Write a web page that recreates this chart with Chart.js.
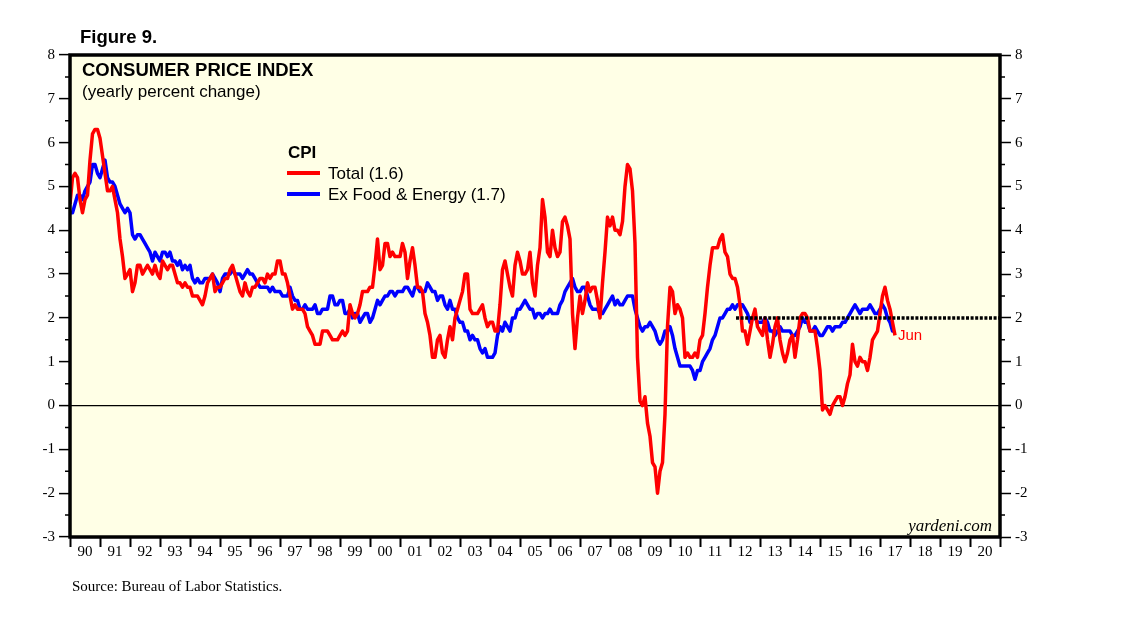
<!DOCTYPE html>
<html>
<head>
<meta charset="utf-8">
<script src="https://cdn.jsdelivr.net/npm/chart.js@4"></script>
<style>
  html, body { margin: 0; padding: 0; background: #ffffff; }
  #wrap { position: relative; width: 1138px; height: 641px; overflow: hidden; }
  #c { position: absolute; left: 0; top: 0; }
  .t { position: absolute; white-space: nowrap; line-height: 1; color: #000; }
  .sans { font-family: "Liberation Sans", Arial, sans-serif; }
  .serif { font-family: "Liberation Serif", "Times New Roman", serif; }
  .sw { position: absolute; height: 4px; width: 33px; }
</style>
</head>
<body>
<div id="wrap">
  <canvas id="c" width="1138" height="641"></canvas>
  <div class="t sans" style="left:80px; top:28px; font-size:18.5px; font-weight:bold;">Figure 9.</div>
  <div class="t sans" style="left:82px; top:61px; font-size:18.5px; font-weight:bold;">CONSUMER PRICE INDEX</div>
  <div class="t sans" style="left:82px; top:82.5px; font-size:17px;">(yearly percent change)</div>
  <div class="t sans" style="left:288px; top:144px; font-size:17px; font-weight:bold;">CPI</div>
  <div class="sw" style="left:287px; top:171px; background:#ff0000;"></div>
  <div class="t sans" style="left:328px; top:164.5px; font-size:17px;">Total (1.6)</div>
  <div class="sw" style="left:287px; top:192px; background:#0000ff;"></div>
  <div class="t sans" style="left:328px; top:185.5px; font-size:17px;">Ex Food &amp; Energy (1.7)</div>
  <div class="t sans" style="left:898px; top:326.5px; font-size:15px; color:#ff0000;">Jun</div>
  <div class="t serif" style="right:146px; top:517px; font-size:17px; font-style:italic;">yardeni.com</div>
  <div class="t serif" style="left:72px; top:578.5px; font-size:15px;">Source: Bureau of Labor Statistics.</div>
</div>
<script>
// Monthly series, first value = Dec 1989, last value = Jun 2017 (yearly % change)
const startYear = 1989;
const startMonth = 12;

const totalCPI = [
  4.6,
  5.2, 5.3, 5.2, 4.7, 4.4, 4.7, 4.8, 5.6, 6.2, 6.3, 6.3, 6.1,   // 1990
  5.7, 5.3, 4.9, 4.9, 5.0, 4.7, 4.4, 3.8, 3.4, 2.9, 3.0, 3.1,   // 1991
  2.6, 2.8, 3.2, 3.2, 3.0, 3.1, 3.2, 3.1, 3.0, 3.2, 3.0, 2.9,   // 1992
  3.3, 3.2, 3.1, 3.2, 3.2, 3.0, 2.8, 2.8, 2.7, 2.8, 2.7, 2.7,   // 1993
  2.5, 2.5, 2.5, 2.4, 2.3, 2.5, 2.8, 2.9, 3.0, 2.6, 2.7, 2.7,   // 1994
  2.8, 2.9, 2.9, 3.1, 3.2, 3.0, 2.8, 2.6, 2.5, 2.8, 2.6, 2.5,   // 1995
  2.7, 2.7, 2.8, 2.9, 2.9, 2.8, 3.0, 2.9, 3.0, 3.0, 3.3, 3.3,   // 1996
  3.0, 3.0, 2.8, 2.5, 2.2, 2.3, 2.2, 2.2, 2.2, 2.1, 1.8, 1.7,   // 1997
  1.6, 1.4, 1.4, 1.4, 1.7, 1.7, 1.7, 1.6, 1.5, 1.5, 1.5, 1.6,   // 1998
  1.7, 1.6, 1.7, 2.3, 2.1, 2.0, 2.1, 2.3, 2.6, 2.6, 2.6, 2.7,   // 1999
  2.7, 3.2, 3.8, 3.1, 3.2, 3.7, 3.7, 3.4, 3.5, 3.4, 3.4, 3.4,   // 2000
  3.7, 3.5, 2.9, 3.3, 3.6, 3.2, 2.7, 2.7, 2.6, 2.1, 1.9, 1.6,   // 2001
  1.1, 1.1, 1.5, 1.6, 1.2, 1.1, 1.5, 1.8, 1.5, 2.0, 2.2, 2.4,   // 2002
  2.6, 3.0, 3.0, 2.2, 2.1, 2.1, 2.1, 2.2, 2.3, 2.0, 1.8, 1.9,   // 2003
  1.9, 1.7, 1.7, 2.3, 3.1, 3.3, 3.0, 2.7, 2.5, 3.2, 3.5, 3.3,   // 2004
  3.0, 3.0, 3.1, 3.5, 2.8, 2.5, 3.2, 3.6, 4.7, 4.3, 3.5, 3.4,   // 2005
  4.0, 3.6, 3.4, 3.5, 4.2, 4.3, 4.1, 3.8, 2.1, 1.3, 2.0, 2.5,   // 2006
  2.1, 2.4, 2.8, 2.6, 2.7, 2.7, 2.4, 2.0, 2.8, 3.5, 4.3, 4.1,   // 2007
  4.3, 4.0, 4.0, 3.9, 4.2, 5.0, 5.5, 5.4, 4.9, 3.7, 1.1, 0.1,   // 2008
  0.0, 0.2, -0.4, -0.7, -1.3, -1.4, -2.0, -1.5, -1.3, -0.2, 1.8, 2.7, // 2009
  2.6, 2.1, 2.3, 2.2, 2.0, 1.1, 1.2, 1.1, 1.1, 1.2, 1.1, 1.5,   // 2010
  1.6, 2.1, 2.7, 3.2, 3.6, 3.6, 3.6, 3.8, 3.9, 3.5, 3.4, 3.0,   // 2011
  2.9, 2.9, 2.7, 2.3, 1.7, 1.7, 1.4, 1.7, 2.0, 2.2, 1.8, 1.7,   // 2012
  1.6, 2.0, 1.5, 1.1, 1.4, 1.8, 2.0, 1.5, 1.2, 1.0, 1.2, 1.5,   // 2013
  1.6, 1.1, 1.5, 2.0, 2.1, 2.1, 2.0, 1.7, 1.7, 1.7, 1.3, 0.8,   // 2014
  -0.1, 0.0, -0.1, -0.2, 0.0, 0.1, 0.2, 0.2, 0.0, 0.2, 0.5, 0.7, // 2015
  1.4, 1.0, 0.9, 1.1, 1.0, 1.0, 0.8, 1.1, 1.5, 1.6, 1.7, 2.1,   // 2016
  2.5, 2.7, 2.4, 2.2, 1.9, 1.6                                  // 2017
];

const coreCPI = [
  4.4,
  4.4, 4.6, 4.8, 4.8, 4.7, 4.9, 5.0, 5.1, 5.5, 5.5, 5.3, 5.2,   // 1990
  5.4, 5.6, 5.2, 5.1, 5.1, 5.0, 4.8, 4.6, 4.5, 4.4, 4.5, 4.4,   // 1991
  3.9, 3.8, 3.9, 3.9, 3.8, 3.7, 3.6, 3.5, 3.3, 3.5, 3.4, 3.3,   // 1992
  3.5, 3.5, 3.4, 3.5, 3.3, 3.3, 3.2, 3.3, 3.1, 3.2, 3.1, 3.2,   // 1993
  2.9, 2.8, 2.9, 2.8, 2.8, 2.9, 2.9, 2.9, 3.0, 2.9, 2.8, 2.6,   // 1994
  2.9, 3.0, 3.0, 3.0, 3.1, 3.0, 3.0, 3.0, 2.9, 3.0, 3.1, 3.0,   // 1995
  3.0, 2.9, 2.8, 2.7, 2.7, 2.7, 2.7, 2.6, 2.7, 2.6, 2.6, 2.6,   // 1996
  2.5, 2.5, 2.5, 2.7, 2.5, 2.4, 2.4, 2.2, 2.2, 2.3, 2.2, 2.2,   // 1997
  2.2, 2.3, 2.1, 2.1, 2.2, 2.2, 2.2, 2.5, 2.5, 2.3, 2.3, 2.4,   // 1998
  2.4, 2.1, 2.1, 2.2, 2.0, 2.1, 2.1, 1.9, 2.0, 2.1, 2.1, 1.9,   // 1999
  2.0, 2.2, 2.4, 2.3, 2.4, 2.5, 2.5, 2.6, 2.6, 2.5, 2.6, 2.6,   // 2000
  2.6, 2.7, 2.7, 2.6, 2.5, 2.7, 2.7, 2.6, 2.6, 2.6, 2.8, 2.7,   // 2001
  2.6, 2.6, 2.4, 2.5, 2.5, 2.3, 2.2, 2.4, 2.2, 2.2, 2.0, 1.9,   // 2002
  1.9, 1.7, 1.7, 1.5, 1.6, 1.5, 1.5, 1.3, 1.2, 1.3, 1.1, 1.1,   // 2003
  1.1, 1.2, 1.6, 1.8, 1.7, 1.9, 1.8, 1.7, 2.0, 2.0, 2.2, 2.2,   // 2004
  2.3, 2.4, 2.3, 2.2, 2.2, 2.0, 2.1, 2.1, 2.0, 2.1, 2.1, 2.2,   // 2005
  2.1, 2.1, 2.1, 2.3, 2.4, 2.6, 2.7, 2.8, 2.9, 2.7, 2.6, 2.6,   // 2006
  2.7, 2.7, 2.5, 2.3, 2.2, 2.2, 2.2, 2.1, 2.1, 2.2, 2.3, 2.4,   // 2007
  2.5, 2.3, 2.4, 2.3, 2.3, 2.4, 2.5, 2.5, 2.5, 2.2, 2.0, 1.8,   // 2008
  1.7, 1.8, 1.8, 1.9, 1.8, 1.7, 1.5, 1.4, 1.5, 1.7, 1.7, 1.8,   // 2009
  1.6, 1.3, 1.1, 0.9, 0.9, 0.9, 0.9, 0.9, 0.8, 0.6, 0.8, 0.8,   // 2010
  1.0, 1.1, 1.2, 1.3, 1.5, 1.6, 1.8, 2.0, 2.0, 2.1, 2.2, 2.2,   // 2011
  2.3, 2.2, 2.3, 2.3, 2.3, 2.2, 2.1, 1.9, 2.0, 2.0, 1.9, 1.9,   // 2012
  1.9, 2.0, 1.9, 1.7, 1.7, 1.6, 1.7, 1.8, 1.7, 1.7, 1.7, 1.7,   // 2013
  1.6, 1.6, 1.7, 1.8, 2.0, 1.9, 1.9, 1.7, 1.7, 1.8, 1.7, 1.6,   // 2014
  1.6, 1.7, 1.8, 1.8, 1.7, 1.8, 1.8, 1.8, 1.9, 1.9, 2.0, 2.1,   // 2015
  2.2, 2.3, 2.2, 2.1, 2.2, 2.2, 2.2, 2.3, 2.2, 2.1, 2.1, 2.2,   // 2016
  2.3, 2.2, 2.0, 1.9, 1.7, 1.7                                  // 2017
];

// Fed 2% target reference line
const targetRate = 2;
const targetFrom = 2012.2;
const targetTo = 2021;

// Axis ranges / tick labels
const xMin = 1990, xMax = 2021;
const yMin = -3, yMax = 8;
const yearLabel = v => (v >= xMax ? '' : String(v % 100).padStart(2, '0'));

const toPoints = arr => arr.map((v, i) => ({ x: startYear + (startMonth + i) / 12, y: v }));

const framePlugin = {
  id: 'frame',
  beforeDraw(chart) {
    const { ctx, chartArea: a } = chart;
    ctx.save();
    ctx.fillStyle = '#FFFFE6';
    ctx.fillRect(a.left, a.top, a.right - a.left, a.bottom - a.top);
    ctx.restore();
  },
  afterDraw(chart) {
    const { ctx, chartArea: a } = chart;
    const ys = chart.scales.y;
    ctx.save();
    ctx.strokeStyle = '#000';
    ctx.lineWidth = 1.5;
    ctx.beginPath();
    for (let v = yMin + 0.5; v < yMax; v += 1) {
      const py = ys.getPixelForValue(v);
      ctx.moveTo(a.left - 5, py); ctx.lineTo(a.left, py);
      ctx.moveTo(a.right, py); ctx.lineTo(a.right + 5, py);
    }
    ctx.stroke();
    ctx.lineWidth = 3.5;
    ctx.strokeRect(a.left, a.top, a.right - a.left, a.bottom - a.top);
    ctx.restore();
  }
};

const serif = { family: '"Liberation Serif", "Times New Roman", serif', size: 15 };

new Chart(document.getElementById('c'), {
  type: 'line',
  data: {
    datasets: [
      {
        label: 'Target',
        data: [{ x: targetFrom, y: targetRate }, { x: targetTo, y: targetRate }],
        borderColor: '#000',
        borderWidth: 3.5,
        borderDash: [3, 1.6],
        pointRadius: 0,
        order: 0
      },
      {
        label: 'Total (1.6)',
        data: toPoints(totalCPI),
        borderColor: '#ff0000',
        borderWidth: 3.5,
        pointRadius: 0,
        tension: 0,
        borderJoinStyle: 'round',
        order: 1
      },
      {
        label: 'Ex Food & Energy (1.7)',
        data: toPoints(coreCPI),
        borderColor: '#0000ff',
        borderWidth: 3.5,
        pointRadius: 0,
        tension: 0,
        borderJoinStyle: 'round',
        order: 2
      }
    ]
  },
  options: {
    responsive: false,
    animation: false,
    devicePixelRatio: 1,
    layout: { padding: { top: 55, left: 0, right: 0, bottom: 0 } },
    plugins: { legend: { display: false }, tooltip: { enabled: false }, title: { display: false } },
    scales: {
      x: {
        type: 'linear',
        min: xMin, max: xMax,
        afterFit(s) { s.height = 104; s.paddingLeft = 0; s.paddingRight = 0; },
        ticks: {
          stepSize: 1, autoSkip: false, maxRotation: 0, minRotation: 0,
          labelOffset: 15, padding: -4, color: '#000', font: serif,
          callback: v => yearLabel(v)
        },
        grid: { drawOnChartArea: false, tickLength: 10, tickWidth: 2, tickColor: '#000' },
        border: { display: false }
      },
      y: {
        type: 'linear', position: 'left',
        min: yMin, max: yMax,
        afterFit(s) { s.width = 70; s.paddingTop = 0; s.paddingBottom = 0; },
        ticks: { stepSize: 1, padding: 4, color: '#000', font: serif, callback: v => String(v) },
        grid: {
          drawOnChartArea: true,
          color: c => (c.tick && c.tick.value === 0 ? '#000' : 'rgba(0,0,0,0)'),
          lineWidth: 1.2,
          tickLength: 11, tickWidth: 1.5, tickColor: '#000'
        },
        border: { display: false }
      },
      y2: {
        type: 'linear', position: 'right',
        min: yMin, max: yMax,
        afterFit(s) { s.width = 138; s.paddingTop = 0; s.paddingBottom = 0; },
        ticks: { stepSize: 1, padding: 4, color: '#000', font: serif, callback: v => String(v) },
        grid: { drawOnChartArea: false, tickLength: 11, tickWidth: 1.5, tickColor: '#000' },
        border: { display: false }
      }
    }
  },
  plugins: [framePlugin]
});
</script>
</body>
</html>
